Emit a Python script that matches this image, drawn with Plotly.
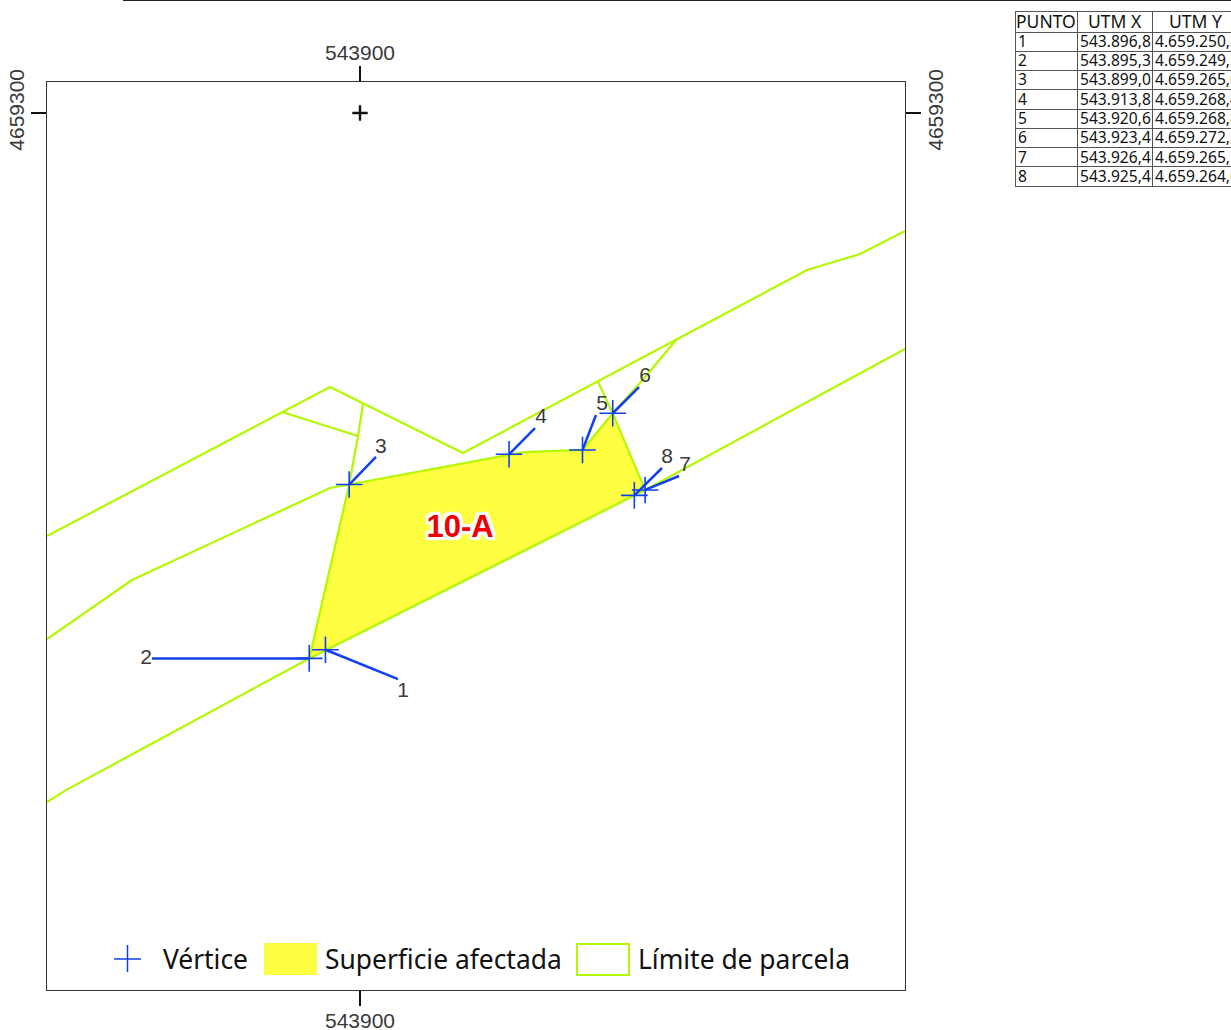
import plotly.graph_objects as go

# ---- data (UTM metres) ----
point_ids = ["1", "2", "3", "4", "5", "6", "7", "8"]
point_x = [543896.8, 543895.3, 543899.0, 543913.8, 543920.6, 543923.4, 543926.4, 543925.4]
point_y = [4659250.3, 4659249.5, 4659265.6, 4659268.4, 4659268.8, 4659272.2, 4659265.1, 4659264.6]

table_header = ["PUNTO", "UTM X", "UTM Y"]
table_x = ["543.896,8", "543.895,3", "543.899,0", "543.913,8", "543.920,6", "543.923,4", "543.926,4", "543.925,4"]
table_y = ["4.659.250,3", "4.659.249,5", "4.659.265,6", "4.659.268,4", "4.659.268,8", "4.659.272,2", "4.659.265,1", "4.659.264,6"]

poly_x = [543899.0, 543913.8, 543915.19, 543920.6, 543923.4, 543926.4, 543925.4, 543896.8, 543895.3, 543899.0]
poly_y = [4659265.6, 4659268.4, 4659268.61, 4659268.8, 4659272.2, 4659265.1, 4659264.6, 4659250.3, 4659249.5, 4659265.6]

parcels = [
    ([543871.02, 543892.78, 543897.22, 543909.54, 543929.35, 543941.39, 543946.30, 543950.46],
     [4659260.83, 4659272.31, 4659274.63, 4659268.52, 4659279.07, 4659285.46, 4659286.94, 4659289.07]),
    ([543892.78, 543899.81], [4659272.31, 4659270.09]),
    ([543900.28, 543899.81, 543899.0], [4659273.06, 4659270.09, 4659265.6]),
    ([543871.02, 543878.89, 543897.22, 543899.0], [4659251.30, 4659256.76, 4659265.28, 4659265.6]),
    ([543871.02, 543872.78, 543895.3, 543896.8, 543925.4, 543926.4, 543950.46],
     [4659236.20, 4659237.31, 4659249.5, 4659250.3, 4659264.6, 4659265.1, 4659278.15]),
    ([543922.04, 543923.4, 543925.93, 543929.35], [4659275.09, 4659272.2, 4659275.0, 4659279.07]),
]

leader_end_x = [543903.52, 543880.74, 543901.48, 543916.20, 543921.85, 543925.83, 543929.54, 543927.96]
leader_end_y = [4659247.59, 4659249.5, 4659268.15, 4659270.83, 4659272.04, 4659274.63, 4659266.39, 4659267.13]
label_x = [543903.98, 543880.19, 543901.94, 543916.76, 543922.41, 543926.39, 543930.09, 543928.43]
label_y = [4659246.39, 4659249.45, 4659268.99, 4659271.76, 4659272.97, 4659275.56, 4659267.32, 4659268.05]

area_label = "10-A"
area_label_x = [543909.26]
area_label_y = [4659261.46]

grid_x = [543900]
grid_y = [4659300]

legend_labels = ["Vértice", "Superficie afectada", "Límite de parcela"]

# ---- styling ----
W, H = 1231, 1030
L, R, T, B = 47, 905, 82, 990
LIME = "#b4f800"
YELLOW = "#ffff42"
BLUE = "#1040f0"
INK = "#3a3a3a"
SANS = "Liberation Sans"


def pxx(v):
    return (v - L) / (R - L)


def pxy(v):
    return (B - v) / (B - T)


fig = go.Figure()

for xs, ys in parcels:
    fig.add_trace(go.Scatter(x=xs, y=ys, mode="lines", line=dict(color=LIME, width=2.2)))

fig.add_trace(go.Scatter(x=poly_x, y=poly_y, mode="lines", fill="toself", fillcolor=YELLOW,
                         line=dict(color=LIME, width=2.2)))

for px_, py_, ex, ey in zip(point_x, point_y, leader_end_x, leader_end_y):
    fig.add_trace(go.Scatter(x=[px_, ex], y=[py_, ey], mode="lines", line=dict(color=BLUE, width=2.5)))

fig.add_trace(go.Scatter(x=point_x, y=point_y, mode="markers",
                         marker=dict(symbol="cross-thin", size=19, line=dict(color=BLUE, width=1.6))))

fig.add_trace(go.Scatter(x=label_x, y=label_y, mode="text", text=point_ids,
                         textposition="middle center",
                         textfont=dict(family=SANS, size=21, color=INK)))

halo = ",".join(f"{dx}px {dy}px 1px #fff" for dx in (-3, 0, 3) for dy in (-3, 0, 3))
fig.add_trace(go.Scatter(x=area_label_x, y=area_label_y, mode="text", text=[area_label],
                         textposition="middle center",
                         textfont=dict(family=SANS, size=31, color="#f00000", weight="bold", shadow=halo)))

# grid crossing mark, on the mirrored axes so that they are drawn
fig.add_trace(go.Scatter(x=grid_x, y=grid_y, mode="markers", xaxis="x2", yaxis="y2",
                         marker=dict(symbol="cross-thin", size=11, line=dict(color="#111", width=2.4))))

xr = [543871.02, 543950.46]
yr = [4659218.8, 4659302.87]
tick = dict(ticks="outside", ticklen=15, tickwidth=2.4, tickcolor="#111", automargin=False,
            tickfont=dict(family=SANS, size=21, color=INK), tickformat="d",
            showgrid=False, zeroline=False, fixedrange=True)

fig.update_layout(
    width=W, height=H, showlegend=False, hovermode=False,
    margin=dict(l=L, r=W - R, t=T, b=H - B, pad=0),
    paper_bgcolor="white", plot_bgcolor="white",
    xaxis=dict(range=xr, tickvals=grid_x, showline=True, linecolor="#333", linewidth=1, mirror=True,
               ticklabelstandoff=-3, **tick),
    yaxis=dict(range=yr, tickvals=grid_y, tickangle=-90, showline=True, linecolor="#333", linewidth=1, mirror=True,
               ticklabelstandoff=-1, **tick),
    xaxis2=dict(range=xr, tickvals=grid_x, overlaying="x", side="top", anchor="y2",
                ticklabelstandoff=-2, **tick),
    yaxis2=dict(range=yr, tickvals=grid_y, tickangle=-90, overlaying="y", side="right", anchor="x2",
                ticklabelstandoff=-3, **tick),
)

shapes = []
annots = []


def line(x0, y0, x1, y1, color="#555", width=1):
    shapes.append(dict(type="line", xref="paper", yref="paper", x0=pxx(x0), y0=pxy(y0), x1=pxx(x1), y1=pxy(y1),
                       line=dict(color=color, width=width), layer="above"))


def text(x, y, s, size, family, color, anchor="left"):
    annots.append(dict(xref="paper", yref="paper", x=pxx(x), y=pxy(y), text=s, showarrow=False,
                       xanchor=anchor, yanchor="middle", borderpad=0,
                       font=dict(family=family, size=size, color=color)))


# top rule
line(123, 0.5, W, 0.5, "#222", 1)

# table
TF = "Noto Sans"
row_lines = [11, 32, 51, 70, 89, 109, 128, 147, 166, 186]
col_lines = [1015, 1077, 1152]
for y in row_lines:
    line(1015, y + 0.5, W, y + 0.5)
for x in col_lines:
    line(x + 0.5, 11, x + 0.5, 186)
for x, s in zip([1045.5, 1114.5, 1195.5], table_header):
    text(x, 21, s, 17.5, TF, "#111", "center")
for i, (pid, tx, ty) in enumerate(zip(point_ids, table_x, table_y)):
    yc = (row_lines[i + 1] + row_lines[i + 2]) / 2
    text(1017, yc, pid, 15.6, TF, "#111")
    text(1079, yc, tx, 15.6, TF, "#111")
    text(1153.5, yc, ty, 15.6, TF, "#111")

# legend
LF = "Noto Sans"
line(114, 959, 141, 959, BLUE, 1.5)
line(127.5, 945, 127.5, 972, BLUE, 1.5)
shapes.append(dict(type="rect", xref="paper", yref="paper", x0=pxx(264), x1=pxx(317), y0=pxy(975), y1=pxy(943),
                   fillcolor=YELLOW, line=dict(width=0), layer="above"))
shapes.append(dict(type="rect", xref="paper", yref="paper", x0=pxx(577), x1=pxx(629), y0=pxy(975), y1=pxy(944),
                   fillcolor="white", line=dict(color=LIME, width=2), layer="above"))
for x, s in zip([162, 324, 637], legend_labels):
    text(x, 958.5, s, 26.4, LF, "#111")

fig.update_layout(shapes=shapes, annotations=annots)

fig.write_html("out.html", config=dict(displayModeBar=False),
               post_script="document.body.style.margin='0';document.body.style.overflow='hidden';")
